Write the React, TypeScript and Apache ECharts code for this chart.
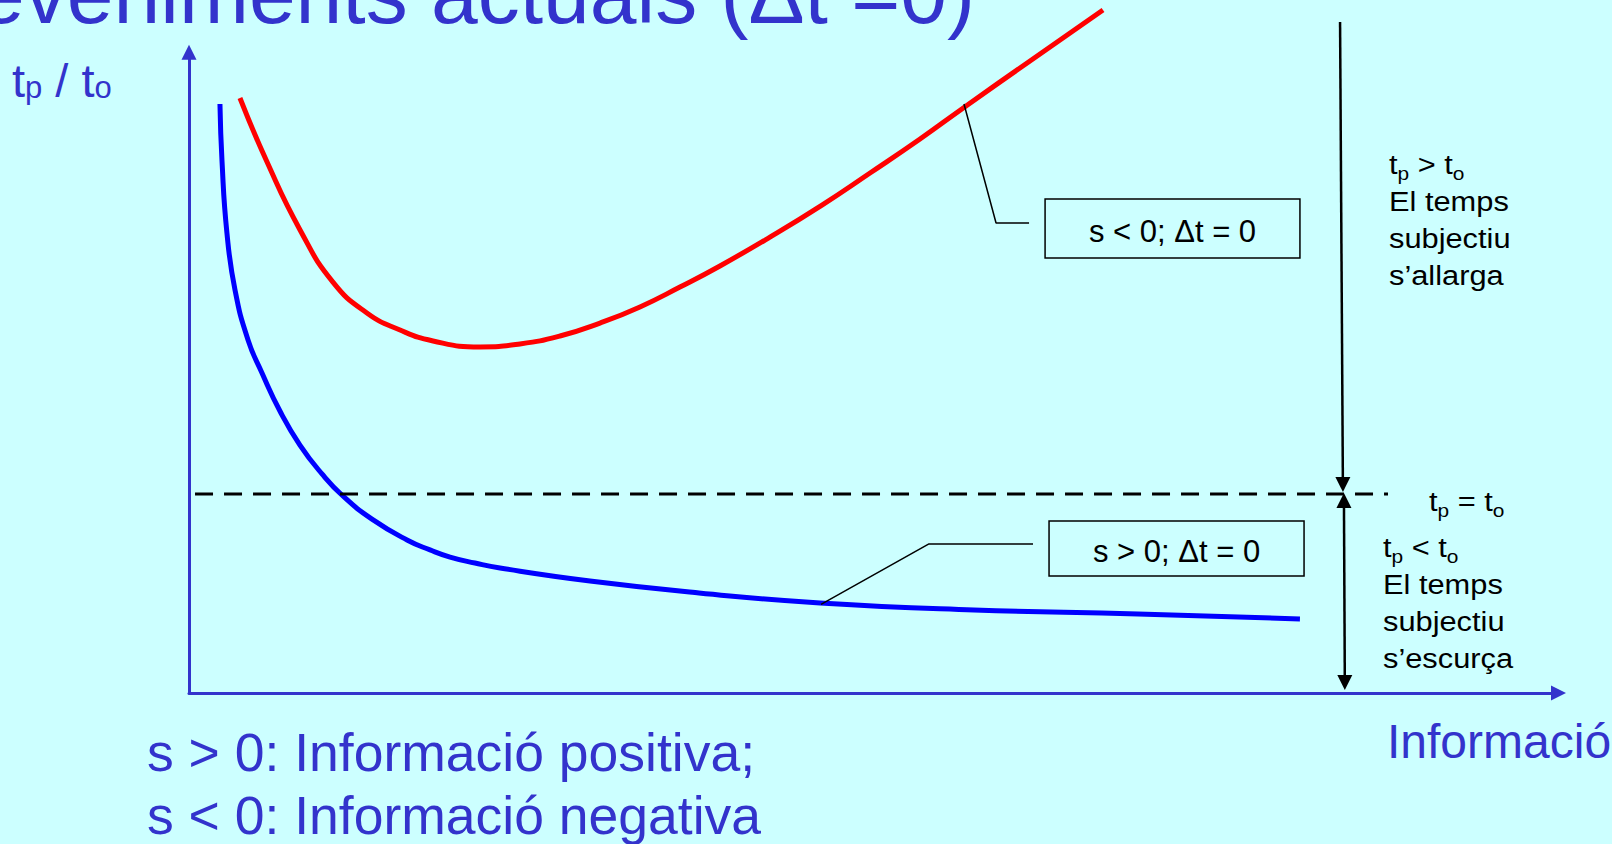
import React, { useEffect, useRef } from "react";
import * as echarts from "echarts";

// ---- data (x: information units 0..100, y: tp/to ratio) ----
const X_MAX = 100;
const Y_MAX = 3.22;

const redX = [3.72, 5.7, 8.11, 10.51, 12.99, 15.41, 17.82, 21.25, 24.17, 27.09, 30.01, 32.93, 35.85, 38.77, 42.42, 46.22, 49.73, 53.38, 56.74, 61.41, 66.74];
const redY = [2.99, 2.668, 2.327, 2.065, 1.91, 1.824, 1.769, 1.739, 1.754, 1.794, 1.859, 1.94, 2.04, 2.146, 2.291, 2.452, 2.613, 2.784, 2.95, 3.176, 3.432];

const blueX = [2.26, 2.41, 2.77, 3.36, 4.31, 5.33, 6.64, 8.1, 9.71, 11.24, 13.36, 15.92, 17.6, 19.06, 20.88, 22.71, 29.28, 37.24, 46.08, 57.32, 69.3, 81.12];
const blueY = [2.96, 2.673, 2.312, 2.025, 1.774, 1.608, 1.417, 1.246, 1.101, 0.99, 0.874, 0.769, 0.719, 0.683, 0.653, 0.628, 0.563, 0.503, 0.452, 0.417, 0.397, 0.372];

const refLevel = 1;
const refSpanX = [0.44, 87.55];

const leaderNegX = [56.59, 58.93, 61.34];
const leaderNegY = [2.96, 2.362, 2.362];
const leaderPosX = [46.15, 54.03, 61.63];
const leaderPosY = [0.445, 0.749, 0.749];

const boxNegX = [62.51, 81.12];
const boxNegY = [2.482, 2.186];
const boxPosX = [62.8, 81.42];
const boxPosY = [0.864, 0.588];

// arrows: [x1, y1, x2, y2, headAtStart, headAtEnd]
const arrowUpper = [84.05, 3.372, 84.26, 1.01, 0, 1];
const arrowLower = [84.33, 1.005, 84.4, 0.015, 1, 1];

const labelNeg = "s < 0; Δt = 0";
const labelPos = "s > 0; Δt = 0";

// ---- styles ----
const BG = "#CCFFFF";
const SLIDE_BLUE = "#3333CC";
const FONT = "'Liberation Sans', Arial, Helvetica, sans-serif";

const zip = (xs: number[], ys: number[]) => xs.map((x, i) => [x, ys[i]]);

export default function App() {
  const ref = useRef<HTMLDivElement>(null);

  useEffect(() => {
    if (!ref.current) return;
    const chart = echarts.init(ref.current, undefined, { renderer: "svg" });

    const PX_PER_Y = 199;
    const gridBottomPx = 693;
    const gridHeight = Y_MAX * PX_PER_Y;

    const axisCommon = {
      axisTick: { show: false },
      axisLabel: { show: false },
      splitLine: { show: false },
    };

    const subRich = (fs: number, sub: number, lh: number, subLh: number) => ({
      m: { fontSize: fs, fontFamily: FONT, lineHeight: lh, color: "#000" },
      s: { fontSize: sub, fontFamily: FONT, lineHeight: subLh, verticalAlign: "bottom", color: "#000" },
    });

    const renderArrow = (params: any, api: any) => {
      const p1 = api.coord([api.value(0), api.value(1)]);
      const p2 = api.coord([api.value(2), api.value(3)]);
      const hs = api.value(4);
      const he = api.value(5);
      const dx = p2[0] - p1[0];
      const dy = p2[1] - p1[1];
      const len = Math.hypot(dx, dy) || 1;
      const ux = dx / len;
      const uy = dy / len;
      const L = 15;
      const W = 7.5;
      const a = hs ? [p1[0] + ux * L, p1[1] + uy * L] : p1;
      const b = he ? [p2[0] - ux * L, p2[1] - uy * L] : p2;
      const head = (tip: number[], vx: number, vy: number) => ({
        type: "polygon",
        shape: {
          points: [
            tip,
            [tip[0] - vx * L - vy * W, tip[1] - vy * L + vx * W],
            [tip[0] - vx * L + vy * W, tip[1] - vy * L - vx * W],
          ],
        },
        style: { fill: "#000" },
      });
      const children: any[] = [
        {
          type: "line",
          shape: { x1: a[0], y1: a[1], x2: b[0], y2: b[1] },
          style: { stroke: "#000", lineWidth: 2.5 },
        },
      ];
      if (he) children.push(head(p2, ux, uy));
      if (hs) children.push(head(p1, -ux, -uy));
      return { type: "group", children };
    };

    const option: any = {
      animation: false,
      backgroundColor: BG,
      grid: { left: 189, top: gridBottomPx - gridHeight, width: 1369.5, height: gridHeight },
      xAxis: {
        type: "value",
        min: 0,
        max: X_MAX,
        ...axisCommon,
        axisLine: {
          show: true,
          onZero: false,
          symbol: ["none", "triangle"],
          symbolSize: [15, 15],
          lineStyle: { color: SLIDE_BLUE, width: 3 },
        },
      },
      yAxis: {
        type: "value",
        min: 0,
        max: Y_MAX,
        ...axisCommon,
        axisLine: {
          show: true,
          onZero: false,
          symbol: ["none", "triangle"],
          symbolSize: [15, 15],
          lineStyle: { color: SLIDE_BLUE, width: 3 },
        },
      },
      series: [
        {
          name: "s < 0",
          type: "line",
          data: zip(redX, redY),
          smooth: 0.5,
          showSymbol: false,
          symbol: "none",
          clip: false,
          silent: true,
          lineStyle: { color: "#FF0000", width: 5 },
          markArea: {
            silent: true,
            itemStyle: { color: "rgba(0,0,0,0)", borderColor: "#000", borderWidth: 1.5 },
            label: {
              show: true,
              position: "inside",
              color: "#000",
              fontSize: 31,
              fontFamily: FONT,
              offset: [0, 3],
              formatter: "{b}",
            },
            data: [
              [
                { name: labelNeg, coord: [boxNegX[0], boxNegY[0]] },
                { coord: [boxNegX[1], boxNegY[1]] },
              ],
              [
                { name: labelPos, coord: [boxPosX[0], boxPosY[0]] },
                { coord: [boxPosX[1], boxPosY[1]] },
              ],
            ],
          },
        },
        {
          name: "s > 0",
          type: "line",
          data: zip(blueX, blueY),
          smooth: 0.5,
          showSymbol: false,
          symbol: "none",
          clip: false,
          silent: true,
          lineStyle: { color: "#0000FF", width: 5 },
        },
        {
          name: "tp = to",
          type: "line",
          data: refSpanX.map((x) => [x, refLevel]),
          showSymbol: false,
          symbol: "none",
          clip: false,
          silent: true,
          lineStyle: { color: "#000", width: 3, type: [18, 11] },
        },
        {
          name: "arrows",
          type: "custom",
          clip: false,
          silent: true,
          renderItem: renderArrow,
          encode: { x: [0, 2], y: [1, 3] },
          data: [arrowUpper, arrowLower],
        },
        {
          name: "leader neg",
          type: "line",
          data: zip(leaderNegX, leaderNegY),
          showSymbol: false,
          symbol: "none",
          clip: false,
          silent: true,
          lineStyle: { color: "#000", width: 1.5 },
        },
        {
          name: "leader pos",
          type: "line",
          data: zip(leaderPosX, leaderPosY),
          showSymbol: false,
          symbol: "none",
          clip: false,
          silent: true,
          lineStyle: { color: "#000", width: 1.5 },
        },
      ],
      graphic: [
        {
          type: "text",
          x: 975,
          y: -6,
          silent: true,
          style: {
            text: "eveniments actuals (Δt =0)",
            fill: SLIDE_BLUE,
            fontSize: 84,
            fontFamily: FONT,
            align: "right",
            textAlign: "right",
            verticalAlign: "middle",
            textVerticalAlign: "middle",
          },
        },
        {
          type: "text",
          x: 12,
          y: 57,
          silent: true,
          style: {
            text: "{m|t}{s|p}{m| / t}{s|o}",
            fill: SLIDE_BLUE,
            verticalAlign: "top",
            textVerticalAlign: "top",
            rich: {
              m: { fontSize: 47, fontFamily: FONT, lineHeight: 46, color: SLIDE_BLUE },
              s: { fontSize: 31, fontFamily: FONT, lineHeight: 5, verticalAlign: "bottom", color: SLIDE_BLUE },
            },
          },
        },
        {
          type: "text",
          x: 1389,
          y: 146,
          scaleX: 1.1,
          silent: true,
          style: {
            text: "{m|t}{s|p}{m| > t}{s|o}\n{m|El temps}\n{m|subjectiu}\n{m|s’allarga}",
            fill: "#000",
            verticalAlign: "top",
            textVerticalAlign: "top",
            rich: subRich(28, 19, 37, 17),
          },
        },
        {
          type: "text",
          x: 1429,
          y: 483,
          scaleX: 1.1,
          silent: true,
          style: {
            text: "{m|t}{s|p}{m| = t}{s|o}",
            fill: "#000",
            verticalAlign: "top",
            textVerticalAlign: "top",
            rich: subRich(28, 19, 37, 17),
          },
        },
        {
          type: "text",
          x: 1383,
          y: 529,
          scaleX: 1.1,
          silent: true,
          style: {
            text: "{m|t}{s|p}{m| < t}{s|o}\n{m|El temps}\n{m|subjectiu}\n{m|s’escurça}",
            fill: "#000",
            verticalAlign: "top",
            textVerticalAlign: "top",
            rich: subRich(28, 19, 37, 17),
          },
        },
        {
          type: "text",
          x: 1387,
          y: 741,
          silent: true,
          style: {
            text: "Informació",
            fill: SLIDE_BLUE,
            fontSize: 48,
            fontFamily: FONT,
            verticalAlign: "middle",
            textVerticalAlign: "middle",
          },
        },
        {
          type: "text",
          x: 147,
          y: 721,
          silent: true,
          style: {
            text: "s > 0: Informació positiva;\ns < 0: Informació negativa",
            fill: SLIDE_BLUE,
            fontSize: 53.5,
            lineHeight: 63,
            fontFamily: FONT,
            verticalAlign: "top",
            textVerticalAlign: "top",
          },
        },
      ],
    };

    chart.setOption(option);
    return () => chart.dispose();
  }, []);

  return (
    <div
      ref={ref}
      style={{ position: "fixed", left: 0, top: 0, width: 1612, height: 844, background: BG }}
    />
  );
}
